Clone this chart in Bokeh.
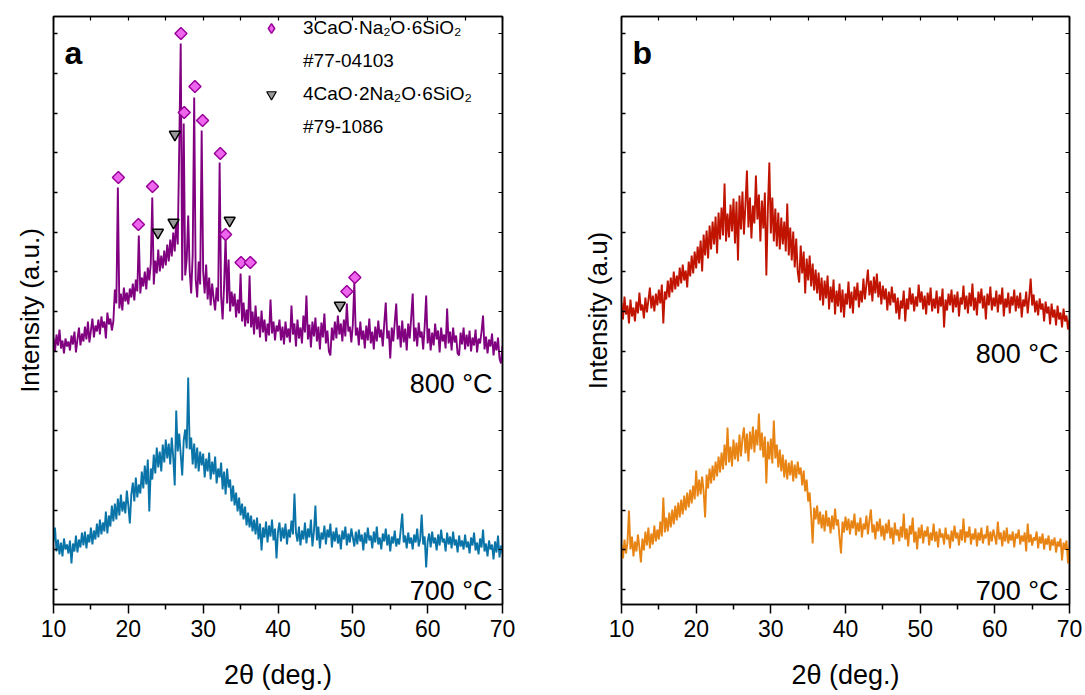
import numpy as np
from bokeh.plotting import figure
from bokeh.models import (LinearAxis, FixedTicker, Label, Legend, LegendItem, Range1d,
                          CustomJSTickFormatter)
from bokeh.layouts import row
from bokeh.embed import file_html
from bokeh.resources import INLINE

# 2-theta sampling: 10.0 .. 70.0 deg, step 0.2 deg
theta_start = 10.0
theta_step = 0.2

# Panel a, 800 C (purple), intensity a.u.
a_800 = [
    252, 238, 255, 244, 260, 241, 249, 236, 251, 243,
    248, 239, 254, 245, 258, 237, 250, 262, 244, 256,
    248, 263, 250, 268, 247, 259, 271, 252, 264, 258,
    270, 255, 273, 262, 268, 251, 277, 265, 271, 259,
    268, 300, 286, 402, 281, 296, 279, 302, 288, 297,
    285, 301, 292, 306, 289, 310, 298, 354, 296, 312,
    303, 318, 300, 322, 309, 326, 392, 305, 329, 316,
    340, 318, 334, 321, 339, 324, 345, 328, 350, 333,
    357, 338, 370, 345, 441, 546, 309, 466, 314, 330,
    374, 318, 296, 335, 492, 310, 292, 328, 305, 459,
    318, 296, 325, 290, 312, 284, 306, 291, 279, 302,
    288, 427, 293, 270, 305, 354, 286, 330, 278, 298,
    283, 296, 272, 290, 276, 316, 268, 287, 263, 280,
    266, 314, 262, 278, 255, 284, 260, 273, 252, 279,
    257, 270, 248, 266, 254, 290, 256, 268, 249, 264,
    258, 270, 249, 263, 245, 268, 252, 261, 247, 284,
    255, 266, 243, 270, 251, 262, 246, 274, 257, 294,
    250, 265, 242, 268, 253, 272, 248, 263, 240, 267,
    252, 276, 246, 259, 238, 234, 262, 249, 268, 251,
    274, 255, 266, 248, 270, 253, 286, 258, 263, 247,
    265, 307, 254, 262, 244, 268, 250, 259, 241, 264,
    249, 271, 246, 258, 240, 263, 248, 269, 252, 260,
    243, 266, 287, 251, 259, 231, 262, 248, 267, 286,
    250, 264, 242, 269, 247, 261, 239, 266, 251, 272,
    296, 248, 262, 243, 267, 252, 258, 240, 263, 294,
    246, 261, 239, 257, 244, 266, 250, 259, 237, 262,
    248, 255, 241, 281, 246, 258, 239, 262, 247, 254,
    236, 234, 257, 245, 262, 240, 255, 243, 259, 238,
    252, 244, 260, 237, 251, 246, 258, 274, 240, 253,
    236, 250, 243, 256, 234, 248, 239, 252, 231, 226,
    244,
]

# Panel a, 700 C (blue)
a_700 = [
    48, 62, 38, 50, 35, 47, 33, 51, 40, 45,
    36, 49, 26, 46, 38, 54, 37, 50, 42, 57,
    44, 58, 41, 55, 47, 62, 45, 59, 50, 66,
    52, 70, 55, 67, 58, 78, 56, 74, 63, 84,
    68, 86, 70, 91, 74, 95, 78, 88, 76, 99,
    84, 66, 95, 107, 88, 112, 92, 105, 96, 118,
    101, 124, 105, 130, 78, 121, 110, 135, 116, 142,
    122, 138, 118, 145, 127, 150, 131, 146, 125, 152,
    132, 104, 179, 138, 156, 135, 114, 149, 160, 141,
    212, 140, 152, 125, 146, 121, 142, 118, 138, 124,
    136, 112, 131, 118, 137, 110, 128, 115, 133, 106,
    121, 112, 127, 100, 118, 95, 121, 102, 110, 88,
    104, 84, 97, 78, 92, 74, 86, 70, 83, 64,
    77, 62, 74, 58, 70, 55, 72, 50, 66, 39,
    62, 52, 68, 47, 64, 53, 70, 49, 61, 31,
    58, 67, 48, 62, 51, 66, 45, 60, 52, 69,
    55, 96, 57, 48, 63, 44, 59, 50, 67, 46,
    61, 52, 70, 43, 58, 84, 49, 63, 41, 57,
    50, 64, 45, 60, 52, 66, 42, 58, 48, 62,
    46, 55, 40, 59, 50, 63, 44, 56, 47, 61,
    52, 43, 58, 45, 60, 48, 55, 39, 57, 46,
    62, 49, 54, 41, 58, 47, 63, 45, 52, 40,
    56, 48, 61, 44, 55, 38, 53, 46, 59, 43,
    51, 45, 60, 76, 47, 54, 41, 57, 46, 52,
    40, 55, 47, 61, 43, 50, 75, 45, 53, 22,
    48, 56, 42, 58, 46, 52, 39, 55, 44, 60,
    47, 51, 38, 57, 45, 53, 41, 58, 44, 50,
    37, 54, 43, 49, 40, 55, 42, 48, 36, 52,
    44, 57, 39, 47, 35, 51, 42, 60, 38, 46,
    33, 49, 40, 45, 30, 48, 37, 54, 32, 44,
    36,
]

# Panel b, 800 C (red)
b_800 = [
    287, 270, 293, 275, 284, 266, 290, 273, 282, 268,
    288, 276, 297, 279, 285, 271, 292, 277, 289, 302,
    281, 294, 278, 296, 284, 300, 286, 305, 266, 298,
    290, 309, 292, 312, 297, 318, 300, 314, 303, 322,
    306, 325, 309, 319, 302, 328, 313, 334, 316, 338,
    321, 343, 326, 349, 318, 355, 334, 359, 331, 364,
    340, 368, 345, 373, 336, 377, 350, 382, 354, 406,
    348, 376, 352, 385, 358, 391, 346, 388, 329, 394,
    360, 398, 355, 385, 419, 362, 392, 351, 384, 366,
    414, 370, 395, 348, 389, 361, 397, 314, 380, 427,
    356, 392, 348, 381, 343, 377, 340, 372, 345, 368,
    338, 386, 334, 362, 329, 358, 322, 351, 318, 307,
    344, 316, 338, 296, 331, 309, 334, 303, 326, 299,
    320, 296, 317, 289, 312, 284, 309, 291, 314, 280,
    303, 287, 310, 275, 299, 283, 306, 277, 300, 272,
    296, 285, 308, 281, 298, 276, 303, 289, 307, 282,
    299, 287, 311, 290, 305, 320, 294, 309, 288, 313,
    296, 316, 292, 308, 285, 304, 290, 301, 279, 298,
    284, 303, 287, 296, 276, 292, 270, 289, 281, 299,
    268, 291, 280, 302, 285, 296, 278, 293, 283, 305,
    287, 298, 280, 294, 275, 297, 284, 302, 278, 291,
    281, 299, 276, 293, 283, 301, 262, 290, 279, 296,
    284, 300, 277, 295, 282, 298, 273, 292, 285, 304,
    280, 294, 276, 297, 283, 306, 279, 292, 274, 298,
    286, 301, 281, 294, 270, 296, 284, 303, 279, 292,
    283, 299, 277, 295, 285, 302, 273, 291, 282, 297,
    276, 293, 284, 300, 278, 294, 281, 297, 272, 290,
    283, 298, 276, 292, 311, 284, 295, 277, 289, 274,
    291, 280, 286, 268, 288, 276, 283, 265, 286, 272,
    280, 264, 284, 270, 277, 262, 281, 268, 274, 260,
    270,
]

# Panel b, 700 C (orange)
b_700 = [
    45, 31, 50, 36, 47, 79, 40, 53, 33, 48,
    38, 55, 42, 27, 51, 39, 58, 44, 62, 41,
    56, 45, 64, 48, 60, 50, 68, 53, 92, 57,
    72, 58, 77, 62, 80, 65, 84, 69, 87, 72,
    90, 75, 94, 79, 97, 82, 100, 86, 104, 90,
    119, 93, 110, 95, 113, 98, 72, 115, 101, 121,
    106, 124, 109, 128, 113, 133, 117, 137, 120, 145,
    124, 162, 127, 143, 123, 150, 130, 147, 128, 155,
    133, 151, 162, 136, 156, 128, 158, 140, 163, 137,
    160, 144, 176, 139, 157, 132, 153, 106, 148, 130,
    151, 126, 169, 131, 145, 122, 140, 118, 135, 112,
    130, 110, 127, 114, 129, 108, 125, 111, 128, 115,
    122, 104, 119, 98, 110, 88, 97, 74, 46, 82,
    70, 84, 65, 78, 61, 75, 58, 79, 63, 72,
    56, 74, 60, 81, 64, 70, 52, 36, 68, 57,
    73, 59, 71, 55, 69, 61, 76, 54, 67, 58,
    72, 52, 66, 60, 74, 55, 69, 80, 57, 65,
    50, 68, 58, 71, 53, 64, 49, 66, 56, 70,
    51, 62, 45, 67, 54, 60, 48, 63, 52, 76,
    50, 61, 43, 64, 55, 72, 47, 58, 40, 62,
    51, 65, 46, 59, 53, 63, 44, 57, 49, 66,
    48, 58, 42, 61, 52, 56, 45, 62, 50, 55,
    41, 59, 48, 64, 51, 57, 44, 60, 49, 71,
    47, 58, 52, 63, 45, 56, 50, 61, 43, 57,
    49, 62, 46, 55, 51, 64, 44, 58, 48, 60,
    53, 45, 68, 50, 57, 43, 59, 48, 62, 46,
    55, 49, 58, 42, 56, 51, 60, 45, 54, 48,
    57, 38, 66, 47, 55, 44, 52, 49, 58, 41,
    53, 46, 56, 40, 51, 45, 54, 39, 50, 44,
    52, 37, 48, 43, 51, 29, 47, 40, 49, 26,
    45,
]

# Reflection markers (panel a)
phase1_name = "3CaO·Na₂O·6SiO₂"
phase1_card = "#77-04103"
phase1_x = [18.67, 21.35, 23.23, 27.03, 27.47, 28.9, 29.92, 32.29, 33.0, 35.06, 36.3, 49.2, 50.27]
phase1_y = [412, 365, 403, 556, 477, 503, 469, 436, 355, 327, 327, 298, 312]

phase2_name = "4CaO·2Na₂O·6SiO₂"
phase2_card = "#79-1086"
phase2_x = [23.95, 26.04, 26.22, 33.54, 48.26]
phase2_y = [357, 367, 455, 369, 284]

x_major = [10, 20, 30, 40, 50, 60, 70]
x_minor = [15, 25, 35, 45, 55, 65]
x_top = [10, 15, 20, 25, 30, 35, 40, 45, 50, 55, 60, 65, 70]
y_ticks = [round(39.7 * k, 1) for k in range(15)]

FONT = "Liberation Sans"
DIAMOND_FILL = "#EE66EE"
DIAMOND_LINE = "#990099"
TRI_FILL = "#999999"


def theta(vals):
    return [round(theta_start + theta_step * i, 1) for i in range(len(vals))]


def blank_formatter():
    return CustomJSTickFormatter(code="return '';")


def make_fig(width, left, right, ylabel):
    p = figure(width=width, height=695, output_backend="svg", toolbar_location=None,
               x_range=Range1d(10, 70), y_range=Range1d(-15, 573),
               min_border_left=left, min_border_right=right,
               min_border_top=16, min_border_bottom=91)
    p.background_fill_color = "white"
    p.border_fill_color = "white"
    p.xgrid.visible = False
    p.ygrid.visible = False
    p.outline_line_color = "black"
    p.outline_line_width = 1.5
    p.outline_line_alpha = 1.0

    xa = p.xaxis[0]
    xa.ticker = FixedTicker(ticks=x_major, minor_ticks=x_minor)
    xa.major_tick_out = 9
    xa.major_tick_in = 0
    xa.minor_tick_out = 5
    xa.minor_tick_in = 0
    xa.axis_line_width = 1.5
    xa.major_tick_line_width = 1.5
    xa.minor_tick_line_width = 1.5
    xa.major_label_text_font = FONT
    xa.major_label_text_font_size = "23px"
    xa.major_label_text_color = "black"
    xa.major_label_standoff = 6
    xa.axis_label = "2θ (deg.)"
    xa.axis_label_text_font = FONT
    xa.axis_label_text_font_size = "27px"
    xa.axis_label_text_font_style = "normal"
    xa.axis_label_text_color = "black"
    xa.axis_label_standoff = 20

    ya = p.yaxis[0]
    ya.ticker = FixedTicker(ticks=y_ticks)
    ya.formatter = blank_formatter()
    ya.major_tick_in = 4
    ya.major_tick_out = 0
    ya.minor_tick_in = 0
    ya.minor_tick_out = 0
    ya.axis_line_width = 1.5
    ya.major_tick_line_width = 1.5
    ya.major_label_standoff = 0
    ya.axis_label = ylabel
    ya.axis_label_text_font = FONT
    ya.axis_label_text_font_size = "26px"
    ya.axis_label_text_font_style = "normal"
    ya.axis_label_text_color = "black"
    ya.axis_label_standoff = 9

    top = LinearAxis(ticker=FixedTicker(ticks=x_top), formatter=blank_formatter(),
                     major_tick_in=4, major_tick_out=0,
                     minor_tick_in=0, minor_tick_out=0, axis_line_width=1.5,
                     major_tick_line_width=1.2, major_label_standoff=0)
    p.add_layout(top, "above")
    right_ax = LinearAxis(ticker=FixedTicker(ticks=y_ticks), formatter=blank_formatter(),
                          major_tick_in=4, major_tick_out=0,
                          minor_tick_in=0, minor_tick_out=0, axis_line_width=1.5,
                          major_tick_line_width=1.2, major_label_standoff=0)
    p.add_layout(right_ax, "right")
    return p


def temp_label(p, text, x, y):
    p.add_layout(Label(x=x, y=y, x_units="screen", y_units="screen", text=text,
                       text_font=FONT, text_font_size="27px", text_color="black",
                       text_align="right", text_baseline="alphabetic"))


def panel_letter(p, text):
    p.add_layout(Label(x=11, y=552, x_units="screen", y_units="screen", text=text,
                       text_font=FONT, text_font_size="32px", text_font_style="bold",
                       text_color="black", text_align="left", text_baseline="alphabetic"))


# ---------------- panel a ----------------
pa = make_fig(568, 53, 66, "Intensity (a.u.)")
pa.line(theta(a_800), a_800, line_color="#800080", line_width=1.9)
pa.line(theta(a_700), a_700, line_color="#0A74A8", line_width=1.9)
r1 = pa.scatter(phase1_x, phase1_y, marker="square", angle=np.pi / 4, size=8.5,
                fill_color=DIAMOND_FILL, line_color=DIAMOND_LINE, line_width=1.5)
r2 = pa.scatter(phase2_x, phase2_y, marker="inverted_triangle", size=11,
                fill_color=TRI_FILL, line_color="black", line_width=1.5)
# legend keys: hidden renderers over the same reflections, carrying the key styles
k1 = pa.scatter(phase1_x, phase1_y, marker="diamond", fill_color=DIAMOND_FILL,
                line_color=DIAMOND_LINE, line_width=1.5, visible=False)
k2 = pa.scatter(phase2_x, phase2_y, marker="inverted_triangle", fill_color=TRI_FILL,
                line_color="black", line_width=1.2, visible=False)
blank1 = pa.line([], [], line_alpha=0)
blank2 = pa.line([], [], line_alpha=0)
legend = Legend(items=[
    LegendItem(label=phase1_name, renderers=[k1]),
    LegendItem(label=phase1_card, renderers=[blank1]),
    LegendItem(label=phase2_name, renderers=[k2]),
    LegendItem(label=phase2_card, renderers=[blank2]),
], location=(206, 465), padding=0, margin=0, spacing=9,
    glyph_width=24, glyph_height=24, label_height=24, label_standoff=20,
    label_text_font=FONT, label_text_font_size="19px", label_text_color="black",
    border_line_alpha=0, background_fill_alpha=0, inactive_fill_alpha=0)
pa.add_layout(legend)
temp_label(pa, "800 °C", 439, 221)
temp_label(pa, "700 °C", 439, 14)
panel_letter(pa, "a")

# ---------------- panel b ----------------
pb = make_fig(517, 53, 16, "Intensity (a.u)")
pb.line(theta(b_800), b_800, line_color="#C01400", line_width=1.9)
pb.line(theta(b_700), b_700, line_color="#E88414", line_width=1.9)
temp_label(pb, "800 °C", 437, 251)
temp_label(pb, "700 °C", 437, 14)
panel_letter(pb, "b")

layout = row(pa, pb)
open("out.html", "w").write(file_html(layout, INLINE))
